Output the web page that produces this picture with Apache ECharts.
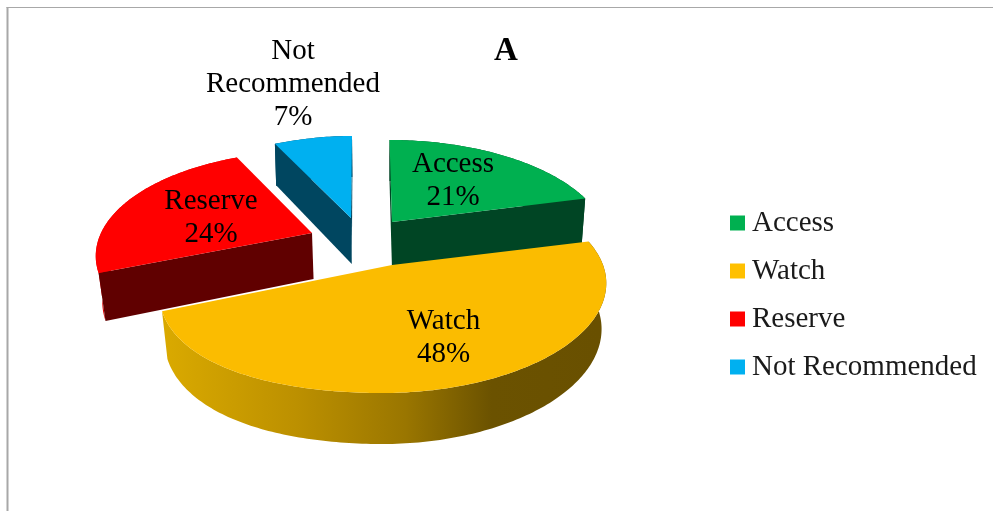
<!DOCTYPE html>
<html>
<head>
<meta charset="utf-8">
<style>html,body{margin:0;padding:0;background:#fff}#c{width:993px;height:511px}</style>
<script src="https://cdn.jsdelivr.net/npm/echarts@6/dist/echarts.min.js"></script>
</head>
<body>
<div id="c"></div>
<script>
// Data
const categories = ['Access', 'Watch', 'Reserve', 'Not Recommended'];
const values = [21, 48, 24, 7];
const labelLines = [['Access'], ['Watch'], ['Reserve'], ['Not', 'Recommended']];
const chartTitle = 'A';

// Styles
const FONT = '"Liberation Serif", "Times New Roman", serif';
const topColors = ['#00B050', '#FBBC00', '#FF0000', '#00B0F0'];
const legendColors = ['#00B050', '#FFC000', '#FF0000', '#00B0F0'];
const wallColors = ['#004524', null, '#600000', '#004660'];
const rimColors = ['#004524', null, '#E00000', '#004660'];
const watchStops = [[0, '#D9A900'], [0.3, '#BC9000'], [0.55, '#9A7600'], [0.75, '#6B5200'], [1, '#695000']];

// Layout of the 3D projection
const K = 0.219, RX = 211, RY = 100;
const slices = [
  { ax: 392, ay: 222, skew: 2.5, bx: 0, by: 0, lx: 453, ly: 180.5 },
  { ax: 392, ay: 265, skew: -10, bx: 0.07, by: 0.18, lx: 443.5, ly: 338 },
  { ax: 312, ay: 233, skew: 0, bx: 0, by: 0, lx: 211, ly: 218 },
  { ax: 351, ay: 218, skew: -1, bx: 0.15, by: -0.1, lx: 293, ly: 84.5 }
];
const total = values.reduce((a, b) => a + b, 0);

function project(s, theta, r) {
  const u = r * Math.sin(theta), v = -r * Math.cos(theta), w = 1 - K * v;
  const side = u < 0 ? u * u : 0;
  return [
    s.ax + RX * u / w * (1 + s.bx * side) + s.skew * v,
    s.ay + RY * v / w * (1 + s.by * side)
  ];
}
function drop(p, v) {
  return [p[0] + (390 - p[0]) * (0.02 + 0.01 * v), p[1] + 46 + 5 * v];
}
function makeRender(i) {
  return function () {
    const s = slices[i];
    const before = values.slice(0, i).reduce((a, b) => a + b, 0);
    const a0 = before / total * 2 * Math.PI;
    const a1 = (before + values[i]) / total * 2 * Math.PI;
    const n = Math.max(8, Math.ceil((a1 - a0) * 60));
    const rimTop = [], rimBot = [];
    for (let j = 0; j <= n; j++) {
      const t = a0 + (a1 - a0) * j / n;
      const p = project(s, t, 1);
      rimTop.push(p);
      rimBot.push(drop(p, -Math.cos(t)));
    }
    const apex = project(s, 0, 0);
    const apexBot = drop(apex, 0);
    const wallFill = wallColors[i];
    const rimFill = i === 1
      ? new echarts.graphic.LinearGradient(167, 0, 600, 0,
          watchStops.map(c => ({ offset: c[0], color: c[1] })), true)
      : rimColors[i];
    const children = [];
    children.push({
      type: 'polygon',
      shape: { points: rimTop.concat(rimBot.slice().reverse()) },
      style: { fill: rimFill }
    });
    // cut faces are drawn when the slice interior lies above the edge on screen (or the edge is near vertical)
    const mid = project(s, (a0 + a1) / 2, 0.5);
    [[rimTop[0], rimBot[0]], [rimTop[n], rimBot[n]]].forEach(e => {
      if (!wallFill) return;
      const dx = e[0][0] - apex[0];
      const nearVertical = Math.abs(dx) < 8;
      const yOnEdge = nearVertical ? 0 : apex[1] + (e[0][1] - apex[1]) * (mid[0] - apex[0]) / dx;
      if (nearVertical || mid[1] < yOnEdge) {
        children.push({
          type: 'polygon',
          shape: { points: [apex, e[0], e[1], apexBot] },
          style: { fill: wallFill }
        });
      }
    });
    children.push({
      type: 'polygon',
      shape: { points: [apex].concat(rimTop) },
      style: { fill: topColors[i] }
    });
    const pct = Math.round(values[i] / total * 100) + '%';
    children.push({
      type: 'text',
      style: {
        x: s.lx, y: s.ly,
        text: labelLines[i].concat([pct]).join('\n'),
        font: '29px ' + FONT,
        lineHeight: 33,
        fill: '#000',
        align: 'center',
        verticalAlign: 'middle'
      }
    });
    return { type: 'group', children };
  };
}

const order = [3, 2, 0, 1];
const chart = echarts.init(document.getElementById('c'), null, { renderer: 'canvas' });
chart.setOption({
  animation: false,
  backgroundColor: '#fff',
  title: {
    text: chartTitle,
    left: 501, top: 46, textAlign: 'center', textVerticalAlign: 'middle',
    textStyle: { fontFamily: FONT, fontSize: 33, fontWeight: 'bold', color: '#000' }
  },
  legend: {
    data: categories,
    orient: 'vertical',
    left: 725, top: 202.5,
    icon: 'rect',
    itemWidth: 15, itemHeight: 15, itemGap: 17,
    selectedMode: false,
    textStyle: { fontFamily: FONT, fontSize: 29, color: '#1a1a1a', padding: [0, 0, 0, 2], lineHeight: 31 }
  },
  graphic: [
    { type: 'rect', shape: { x: 6.5, y: 7, width: 2, height: 504 }, style: { fill: '#a8a8a8' } },
    { type: 'rect', shape: { x: 6.5, y: 7, width: 987, height: 1 }, style: { fill: '#a8a8a8' } }
  ],
  series: order.map(i => ({
    type: 'custom',
    name: categories[i],
    coordinateSystem: 'none',
    silent: true,
    itemStyle: { color: legendColors[i] },
    renderItem: makeRender(i),
    data: [{ name: categories[i], value: values[i] }]
  }))
});
</script>
</body>
</html>
